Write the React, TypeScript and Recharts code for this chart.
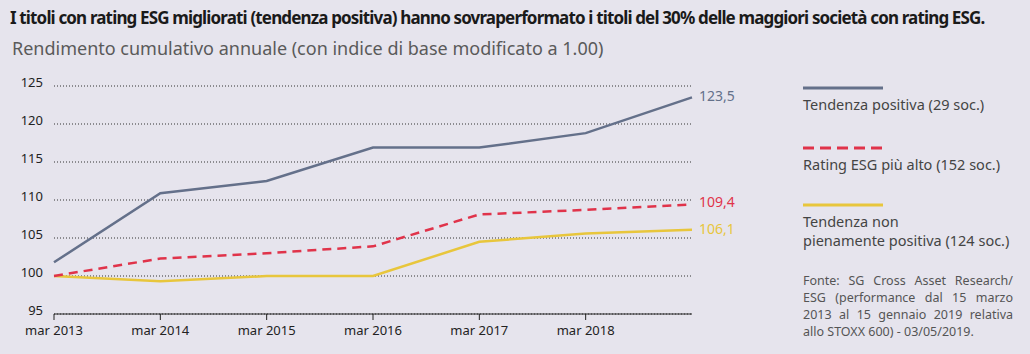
import { CartesianGrid, Line, LineChart, XAxis, YAxis } from 'recharts'

const years = ['mar 2013', 'mar 2014', 'mar 2015', 'mar 2016', 'mar 2017', 'mar 2018', 'gen 2019']
const positiva = [101.8, 110.9, 112.5, 116.9, 116.9, 118.8, 123.5]
const ratingAlto = [100, 102.3, 103.0, 103.9, 108.1, 108.7, 109.4]
const nonPiena = [100, 99.3, 100, 100, 104.5, 105.6, 106.1]
const yTicks = [95, 100, 105, 110, 115, 120, 125]
const xTicks = [0, 1, 2, 3, 4, 5]

const GRAY = '#64708a'
const RED = '#e0334a'
const YELLOW = '#e8c63c'
const BG = '#e6e4ed'
const FONT = '"Noto Sans", "Open Sans", sans-serif'

const chartData = years.map((label, i) => ({
  i,
  label,
  positiva: positiva[i],
  ratingAlto: ratingAlto[i],
  nonPiena: nonPiena[i],
}))

const fmt = (v: number) => v.toFixed(1).replace('.', ',')

const endLabel = (color: string, dy: number) => (props: any) => {
  const { x, y, index, value } = props
  if (index !== chartData.length - 1) return null
  return (
    <text x={x + 7} y={y + dy} fill={color} fontSize={14} fontFamily={FONT} dominantBaseline="middle">
      {fmt(value)}
    </text>
  )
}

// y labels sit a touch above their gridline, like the original
const YTick = (props: any) => {
  const { x, y, payload } = props
  return (
    <text x={x} y={y - 2} textAnchor="end" dominantBaseline="middle" fill="#222" fontSize={13} fontFamily={FONT}>
      {payload.value}
    </text>
  )
}

const legendItems = [
  { color: GRAY, dashed: false, text: ['Tendenza positiva (29 soc.)'], top: 86 },
  { color: RED, dashed: true, text: ['Rating ESG più alto (152 soc.)'], top: 146 },
  { color: YELLOW, dashed: false, text: ['Tendenza non', 'pienamente positiva (124 soc.)'], top: 203 },
]

export default function App() {
  return (
    <div
      style={{
        position: 'absolute',
        left: 0,
        top: 0,
        width: 1030,
        height: 354,
        background: BG,
        fontFamily: FONT,
        overflow: 'hidden',
      }}
    >
      <div
        style={{
          position: 'absolute',
          left: 10,
          top: 6,
          fontSize: 17,
          fontWeight: 700,
          letterSpacing: -0.85,
          color: '#1a1a1a',
          whiteSpace: 'nowrap',
        }}
      >
        I titoli con rating ESG migliorati (tendenza positiva) hanno sovraperformato i titoli del 30% delle maggiori società con rating ESG.
      </div>
      <div
        style={{
          position: 'absolute',
          left: 12,
          top: 36,
          fontSize: 18,
          color: '#5a5a5a',
          whiteSpace: 'nowrap',
        }}
      >
        Rendimento cumulativo annuale (con indice di base modificato a 1.00)
      </div>

      <div style={{ position: 'absolute', left: 0, top: 0 }}>
        <LineChart
          width={760}
          height={354}
          data={chartData}
          margin={{ top: 86, right: 68, bottom: 7, left: 0 }}
        >
          <CartesianGrid vertical={false} stroke="#333" strokeDasharray="1 2" />
          <XAxis
            dataKey="i"
            type="number"
            domain={[0, 6]}
            ticks={xTicks}
            tickFormatter={(v: number) => years[v]}
            stroke="#222"
            height={33}
            tickSize={6}
            tickMargin={6}
            tick={{ fill: '#222', fontSize: 13, fontFamily: FONT }}
          />
          <YAxis
            domain={[95, 125]}
            ticks={yTicks}
            width={54}
            axisLine={false}
            tickLine={false}
            tickMargin={5}
            tick={<YTick />}
          />
          <Line
            dataKey="nonPiena"
            stroke={YELLOW}
            strokeWidth={2.5}
            dot={false}
            isAnimationActive={false}
            label={endLabel(YELLOW, 1)}
          />
          <Line
            dataKey="ratingAlto"
            stroke={RED}
            strokeWidth={2.5}
            strokeDasharray="9 6"
            dot={false}
            isAnimationActive={false}
            label={endLabel(RED, -1)}
          />
          <Line
            dataKey="positiva"
            stroke={GRAY}
            strokeWidth={2.5}
            dot={false}
            isAnimationActive={false}
            label={endLabel(GRAY, 0)}
          />
        </LineChart>
      </div>

      {legendItems.map((item) => (
        <div key={item.text[0]} style={{ position: 'absolute', left: 803, top: item.top }}>
          <svg width={80} height={4} style={{ display: 'block' }}>
            <line
              x1={0}
              x2={80}
              y1={2}
              y2={2}
              stroke={item.color}
              strokeWidth={3}
              strokeDasharray={item.dashed ? '11 6' : undefined}
            />
          </svg>
          <div style={{ marginTop: 5, fontSize: 14.5, color: '#444', lineHeight: '19px' }}>
            {item.text.map((t) => (
              <div key={t}>{t}</div>
            ))}
          </div>
        </div>
      ))}

      <div
        style={{
          position: 'absolute',
          left: 803,
          top: 272,
          width: 210,
          fontSize: 12.5,
          lineHeight: '17px',
          color: '#555',
          textAlign: 'justify',
        }}
      >
        Fonte: SG Cross Asset Research/ ESG (performance dal 15 marzo 2013 al 15 gennaio 2019 relativa allo STOXX 600) - 03/05/2019.
      </div>
    </div>
  )
}
